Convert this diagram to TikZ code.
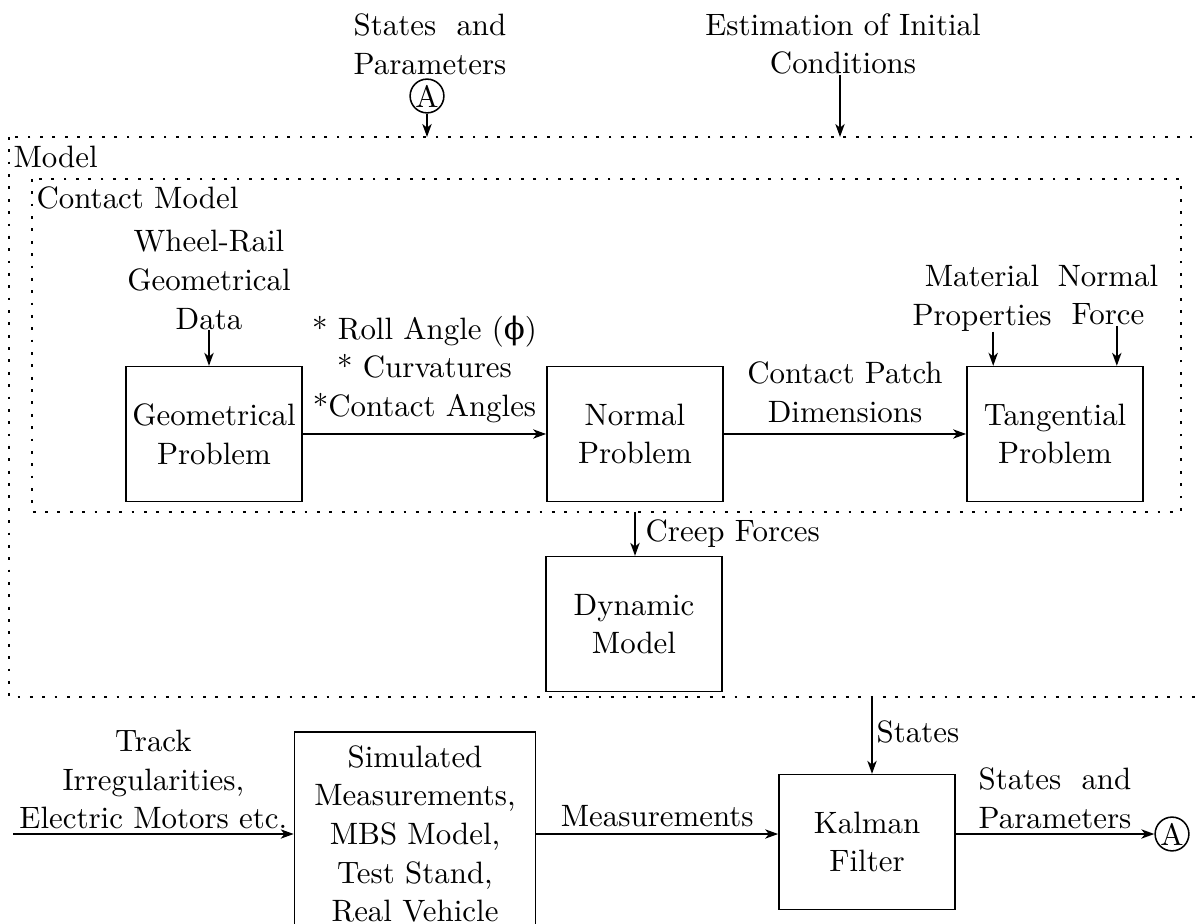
\documentclass[tikz,border=0pt]{standalone}
\usepackage{fontspec}
\newfontfamily\phifont{DejaVu Serif}
\usetikzlibrary{arrows.meta}
\begin{document}
\begin{tikzpicture}[x=0.3236pt,y=-0.3236pt,
  every node/.style={font=\fontsize{10pt}{12.5pt}\selectfont},
  blk/.style={draw,line width=0.5pt,minimum width=57pt,minimum height=43.6pt,align=center,inner sep=2pt},
  txt/.style={align=center,inner sep=0pt},
  circ/.style={draw,circle,line width=0.5pt,inner sep=0.2pt},
  arr/.style={-{Stealth[length=4.2pt,width=3pt,inset=1.2pt]},line width=0.6pt},
  dotbox/.style={line width=0.9pt,dash pattern=on 0.9pt off 3.1pt}]
\useasboundingbox (0,0) rectangle (1200,924);
\clip (0,0) rectangle (1200,924);
% frames
\draw[dotbox] (9,137) rectangle (1215,697);
\draw[dotbox] (32,179) rectangle (1181,512);
\coordinate (otop) at (0,137);
\coordinate (ibot) at (0,512);
\coordinate (stt) at (872,697);
\coordinate (trk) at (13,834);
% labels of frames
\node[txt,anchor=west] (mdl) at (13,157) {Model};
\node[txt,anchor=west] (cm) at (36,198) {Contact Model};
% top
\node[txt] (sp1) at (430,47) {\begin{tabular}{@{}c@{}}States\hfill and\\Parameters\end{tabular}};
\node[circ] (a1) at (427,96) {A};
\node[txt] (est) at (843,44) {Estimation of Initial\\Conditions};
\coordinate (estx) at (840,0);
\draw[arr] (a1.south) -- (a1.south |- otop);
\draw[arr] (estx |- est.south) -- (estx |- otop);
% contact model
\node[blk] (geo) at (214,434) {Geometrical\\Problem};
\node[blk] (nrm) at (635,434) {Normal\\Problem};
\node[blk] (tan) at (1055,434) {Tangential\\Problem};
\node[txt] (wr) at (209,280) {Wheel-Rail\\Geometrical\\Data};
\node[txt] (mp) at (982,298) {Material\\Properties};
\node[txt] (nf) at (1108,295) {Normal\\Force};
\coordinate (tanL) at ([xshift=-20pt]tan.north);
\coordinate (tanR) at ([xshift=20pt]tan.north);
\draw[arr] (wr.south) -- (wr.south |- geo.north);
\draw[arr] (tanL |- mp.south) -- (tanL);
\draw[arr] (tanR |- nf.south) -- (tanR);
\draw[arr] (geo.east) -- (geo.east -| nrm.west)
  node[midway,above,align=center,inner sep=3.3pt] {{*} Roll Angle ({\phifont ϕ})\\{*} Curvatures\\{*}Contact Angles};
\draw[arr] (nrm.east) -- (nrm.east -| tan.west)
  node[midway,above,align=center,inner sep=3.3pt] {Contact Patch\\Dimensions};
% dynamic model
\node[blk] (dyn) at (634,624) {Dynamic\\Model};
\draw[arr] (nrm.south |- ibot) -- (nrm.south |- dyn.north);
\node[txt,anchor=west] (cf) at (645,534) {Creep Forces};
% bottom
\node[blk,minimum width=78pt,minimum height=66pt] (sim) at (415,834) {Simulated\\Measurements,\\MBS Model,\\Test Stand,\\Real Vehicle};
\node[blk] (kal) at (867,842) {Kalman\\Filter};
\node[circ] (a2) at (1172,834) {A};
\draw[arr] (trk) -- (sim.west |- trk)
  node[midway,above,align=center,inner sep=1.3pt] {Track\\Irregularities,\\Electric Motors etc.};
\draw[arr] (sim.east) -- (sim.east -| kal.west)
  node[midway,above,inner sep=2pt] {Measurements};
\draw[arr] (stt) -- (stt |- kal.north);
\node[txt,anchor=west] (st) at (876,732) {States};
\draw[arr] (kal.east |- a2) -- (a2.west);
\node[txt] (sp2) at (1055,801) {\begin{tabular}{@{}c@{}}States\hfill and\\Parameters\end{tabular}};
\end{tikzpicture}
\end{document}
